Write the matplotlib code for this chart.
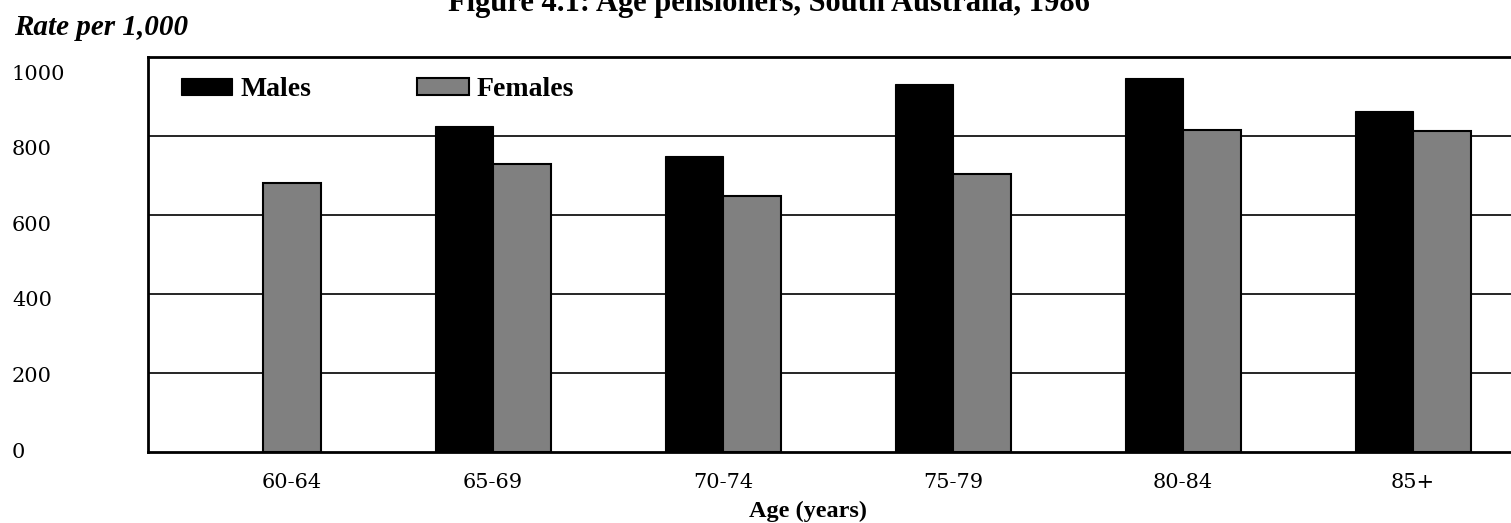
import numpy as np
import matplotlib.pyplot as plt

ages = ['60-64', '65-69', '70-74', '75-79', '80-84', '85+']
males = [0, 825, 749, 932, 947, 863]
females = [681, 729, 648, 704, 815, 813]
yticks = [0, 200, 400, 600, 800, 1000]

fig = plt.figure(figsize=(15.11, 5.23), dpi=100)
ax = fig.add_axes([148 / 1511, 71 / 523, 1380 / 1511, 395 / 523])

x = np.arange(len(ages))
w = 0.252
for v in yticks[1:-1]:
    ax.axhline(v, color='black', lw=1.2, zorder=1)
ax.bar(x - w / 2, males, w, color='black', edgecolor='black', lw=0.8,
       label='Males', zorder=2)
ax.bar(x + w / 2, females, w, color='#808080', edgecolor='black', lw=1.5,
       label='Females', zorder=2)

ax.set_xlim(-0.5, 5.5)
ax.set_ylim(0, 1000)

# label sits under the bars that are present
lab_x = [(i + w / 2) if m == 0 else i for i, m in zip(x, males)]
ax.set_xticks(lab_x)
ax.set_xticklabels(ages, family='DejaVu Serif', fontsize=15)
ax.tick_params(axis='x', length=0, pad=15)

ax.set_yticks([])
# tick labels in the source are evenly spaced a little apart from the grid
ax2 = ax.twinx()
ax2.set_ylim(-5.2, 1039.7)
ax2.yaxis.tick_left()
ax2.set_yticks(yticks)
ax2.set_yticklabels([str(v) for v in yticks], family='DejaVu Serif', fontsize=15)
ax2.tick_params(axis='y', length=0, pad=98)
for t in ax2.get_yticklabels():
    t.set_horizontalalignment('left')
for s in ax2.spines.values():
    s.set_visible(False)

for s in ['left', 'bottom', 'top']:
    ax.spines[s].set_linewidth(2)
ax.spines['right'].set_visible(False)

leg = ax.legend(loc='upper left', bbox_to_anchor=(8 / 1380, 1 + 5 / 395), ncol=2,
                frameon=False, prop={'family': 'Liberation Serif', 'weight': 'bold', 'size': 20},
                handlelength=1.85, handleheight=0.55, handletextpad=0.3,
                columnspacing=3.8, borderaxespad=0.3, borderpad=0.6)

fig.text(769 / 1511, 1 - 11 / 523, 'Figure 4.1: Age pensioners, South Australia, 1986',
         ha='center', va='baseline', family='Liberation Serif', weight='bold', fontsize=22)
fig.text(14 / 1511, 1 - 35 / 523, 'Rate per 1,000', ha='left', va='baseline',
         family='Liberation Serif', weight='bold', style='italic', fontsize=21)
fig.text(808 / 1511, 1 - 511 / 523, 'Age (years)', ha='center', va='center',
         family='Liberation Serif', weight='bold', fontsize=17.5)

fig.savefig('out.png', dpi=100)
